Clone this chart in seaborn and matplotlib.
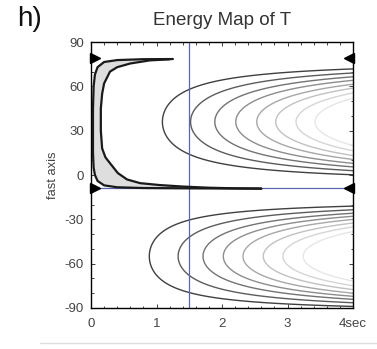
import numpy as np
import pandas as pd
import seaborn as sns
import matplotlib
matplotlib.use("Agg")
import matplotlib.pyplot as plt
from matplotlib.lines import Line2D

sns.set_style("white")
plt.rcParams['font.family'] = ['Liberation Sans', 'DejaVu Sans']

# ---- data ----
x_ticks = [0, 1, 2, 3, 4]
x_tick_labels = ["0", "1", "2", "3", "4sec"]
y_ticks = [90, 60, 30, 0, -30, -60, -90]
y_tick_labels = ["90", "60", "30", "0", "-30", "-60", "-90"]

# energy-band outer and inner curves (delay sec, fast-axis deg)
outer_t = [1.25, 0.8, 0.4, 0.2, 0.1, 0.06, 0.04, 0.03, 0.03, 0.03, 0.04, 0.06, 0.1, 0.2, 0.4, 0.8, 1.5, 2.0, 2.6]
outer_phi = [78.5, 78.4, 77.8, 76.5, 73, 68, 60, 45, 30, 15, 5, 0, -4, -7, -8.3, -8.8, -9.0, -9.1, -9.2]
inner_t = [1.2, 0.9, 0.6, 0.4, 0.29, 0.2, 0.17, 0.15, 0.15, 0.17, 0.22, 0.29, 0.41, 0.55, 0.75, 1.05, 1.4, 1.8, 2.2, 2.6]
inner_phi = [78.3, 77.6, 75.5, 73, 70, 62, 55, 45, 30, 18, 12, 8, 1.3, -3, -5.5, -6.8, -7.8, -8.6, -9.0, -9.2]

# contour lobes: centre, half-width, contour levels (leftmost delay of each contour)
upper_center, upper_width = 36, 42
upper_levels = [1.09, 1.52, 1.89, 2.21, 2.53, 2.82, 3.13, 3.42]
lower_center, lower_width = -55, 38.5
lower_levels = [0.89, 1.33, 1.71, 2.02, 2.32, 2.63, 2.93, 3.24]

best_delay = 1.5
best_phi = -8.5
marker_phi = [79, -9]

# ---- figure ----
fig = plt.figure(figsize=(3.77, 3.49), dpi=100)
ax = fig.add_axes([0.2414, 0.1175, 0.695, 0.762])

tt = np.linspace(0.01, 4, 400)
pp = np.linspace(-90, 90, 361)
T, P = np.meshgrid(tt, pp)
Zu = T * (1 - ((P - upper_center) / upper_width) ** 2)
Zl = T * (1 - ((P - lower_center) / lower_width) ** 2)
grays_u = [plt.cm.Greys(v) for v in np.linspace(0.8, 0.18, len(upper_levels))]
grays_l = [plt.cm.Greys(v) for v in np.linspace(0.8, 0.18, len(lower_levels))]
ax.contour(T, P, Zu, levels=upper_levels, colors=grays_u, linewidths=1.0)
ax.contour(T, P, Zl, levels=lower_levels, colors=grays_l, linewidths=1.0)

# energy band
band_t = outer_t + inner_t[::-1]
band_phi = outer_phi + inner_phi[::-1]
ax.fill(band_t, band_phi, color="#dedede", zorder=3, lw=0)
df_o = pd.DataFrame({"t": outer_t, "phi": outer_phi})
df_i = pd.DataFrame({"t": inner_t, "phi": inner_phi})
sns.lineplot(data=df_o, x="t", y="phi", sort=False, estimator=None, errorbar=None,
             color="#1a1a1a", lw=1.6, ax=ax, zorder=4)
sns.lineplot(data=df_i, x="t", y="phi", sort=False, estimator=None, errorbar=None,
             color="#1a1a1a", lw=1.6, ax=ax, zorder=4)

# blue cross-hair lines
ax.axvline(best_delay, color="#5a66b0", lw=0.9, zorder=2)
ax.axhline(best_phi, color="#5a66b0", lw=0.9, zorder=2)

# edge triangles
for ph in marker_phi:
    ax.plot([0.06], [ph], marker=">", color="black", ms=7.5, clip_on=False, zorder=6)
    ax.plot([3.94], [ph], marker="<", color="black", ms=7.5, clip_on=False, zorder=6)

ax.set_xlim(0, 4)
ax.set_ylim(-90, 90)
ax.set_xticks(x_ticks)
ax.set_xticklabels(x_tick_labels)
ax.set_yticks(y_ticks)
ax.set_yticklabels(y_tick_labels)
ax.set_xticks(np.arange(0, 4.01, 0.2), minor=True)
ax.set_yticks(np.arange(-90, 91, 10), minor=True)
ax.tick_params(which="both", direction="in", top=True, right=True, bottom=True, left=True,
               colors="#222222", labelcolor="#444444", labelsize=9.5, length=3, width=0.6)
ax.tick_params(which="minor", length=1.8)
ax.tick_params(axis="x", pad=7)
ax.tick_params(axis="y", pad=5)
for s in ax.spines.values():
    s.set_color("black")
    s.set_linewidth(1.0)
ax.set_xlabel("")
ax.set_ylabel("fast axis", fontsize=9.3, color="#444444", labelpad=4)
ax.set_title("Energy Map of T", fontsize=13.5, color="#333333", pad=12)

fig.text(0.045, 0.946, "h)", fontsize=20, color="#111111", va="center", ha="left")
fig.add_artist(Line2D([0.105, 1.0], [0.017, 0.017], color="#dddddd", lw=1.0))

fig.savefig("out.png", dpi=100)
